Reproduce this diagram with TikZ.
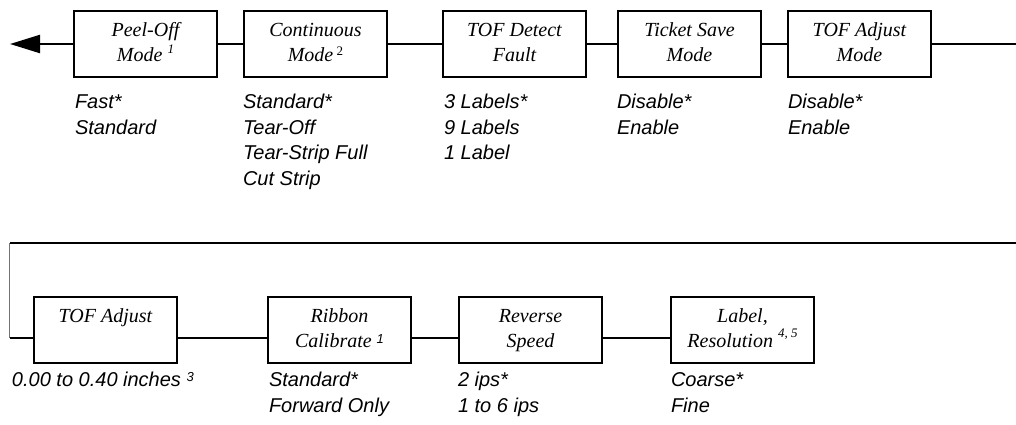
\documentclass[tikz,border=0pt]{standalone}
\usepackage{fontspec}
\setmainfont{Liberation Serif}
\setsansfont{Liberation Sans}
\usetikzlibrary{arrows.meta}
\newcommand{\supsr}[2]{\smash{\raisebox{#1}{\fontsize{13}{13}\selectfont #2}}}
\begin{document}
\begin{tikzpicture}[x=1pt,y=-1pt,
  menubox/.style={draw, line width=2.2pt, minimum width=143pt, minimum height=66pt,
    inner sep=0pt, outer sep=0pt, anchor=north west, align=center,
    font=\fontsize{20}{25}\selectfont\itshape},
  opts/.style={anchor=north west, inner sep=0pt, outer sep=0pt, align=left,
    font=\sffamily\itshape\fontsize{20}{25.5}\selectfont},
  conn/.style={line width=2.2pt}]
\useasboundingbox (0,0) rectangle (1016,424);
% top row
\node[menubox] (peel) at (74,11) {\strut Peel-Off\\\strut Mode \supsr{8pt}{1}};
\node[menubox] (cont) at (244,11) {\strut Continuous\\\strut Mode\,\supsr{6pt}{\upshape 2}};
\node[menubox] (tofd) at (443,11) {\strut TOF Detect\\\strut Fault};
\node[menubox] (tick) at (618,11) {\strut Ticket Save\\\strut Mode};
\node[menubox] (tofm) at (788,11) {\strut TOF Adjust\\\strut Mode};
% bottom row
\node[menubox] (tofa) at (34,297) {\strut TOF Adjust\\\strut};
\node[menubox] (rib) at (268,297) {\strut Ribbon\\\strut Calibrate \supsr{4pt}{\sffamily 1}};
\node[menubox] (rev) at (459,297) {\strut Reverse\\\strut Speed};
\node[menubox] (lab) at (671,297) {\strut Label,\\\strut Resolution \supsr{10pt}{4, 5}};
% options
\node[opts] (o1) at (75,91) {\strut Fast*\\\strut Standard};
\node[opts] (o2) at (243,91) {\strut Standard*\\\strut Tear-Off\\\strut Tear-Strip Full\\\strut Cut Strip};
\node[opts] (o3) at (444,91) {\strut 3 Labels*\\\strut 9 Labels\\\strut 1 Label};
\node[opts] (o4) at (617,91) {\strut Disable*\\\strut Enable};
\node[opts] (o5) at (788,91) {\strut Disable*\\\strut Enable};
\node[opts] (o6) at (12,369) {\strut 0.00 to 0.40 inches \supsr{5pt}{3}};
\node[opts] (o7) at (269,369) {\strut Standard*\\\strut Forward Only};
\node[opts] (o8) at (458,369) {\strut 2 ips*\\\strut 1 to 6 ips};
\node[opts] (o9) at (671,369) {\strut Coarse*\\\strut Fine};
% connectors
\coordinate (tipL) at (10,44);
\coordinate (endR) at (1016,44);
\coordinate (wrapR) at (1016,243);
\coordinate (wrapL) at (9.5,243);
\coordinate (rowb) at (0,338);
\coordinate (downL) at (9.5,338);
\draw[conn,-{Triangle[length=30pt,width=18pt]}] (peel.west) -- (tipL);
\draw[conn] (peel.east) -- (cont.west);
\draw[conn] (cont.east) -- (tofd.west);
\draw[conn] (tofd.east) -- (tick.west);
\draw[conn] (tick.east) -- (tofm.west);
\draw[conn] (tofm.east) -- (endR);
\draw[conn] (wrapR) -- (wrapL);
\draw[line width=1.2pt, black!55] (wrapL) -- (downL);
\draw[conn] (downL) -- (tofa.west |- rowb);
\draw[conn] (tofa.east |- rowb) -- (rib.west |- rowb);
\draw[conn] (rib.east |- rowb) -- (rev.west |- rowb);
\draw[conn] (rev.east |- rowb) -- (lab.west |- rowb);
\end{tikzpicture}
\end{document}
